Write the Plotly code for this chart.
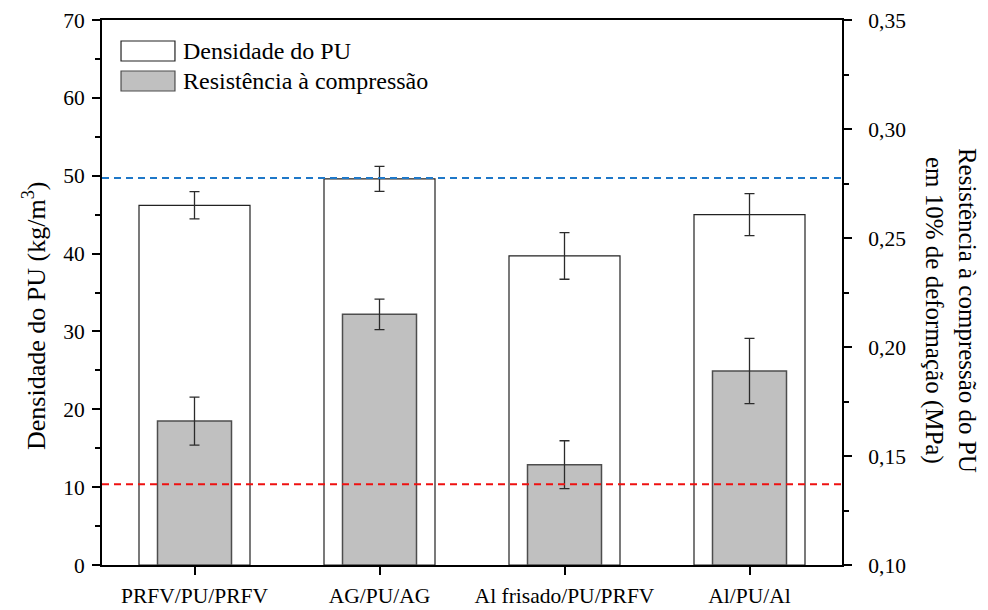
import plotly.graph_objects as go

# Sample configurations
categories = ["PRFV/PU/PRFV", "AG/PU/AG", "Al frisado/PU/PRFV", "Al/PU/Al"]

# PU foam density (kg/m3) and standard deviation
density = [46.2, 49.6, 39.7, 45.0]
density_err = [1.75, 1.6, 3.0, 2.7]

# Compressive strength at 10% strain (MPa) and standard deviation
strength = [0.166, 0.215, 0.146, 0.189]
strength_err = [0.011, 0.007, 0.011, 0.015]

# Reference levels drawn as dashed lines
density_ref = 49.7
strength_ref = 0.137

legend_labels = ["Densidade do PU", "Resistência à compressão"]

FONT = "Liberation Serif"
STRENGTH_MIN = 0.10

fig = go.Figure()

fig.add_trace(go.Bar(
    x=categories, y=density, width=0.6, name=legend_labels[0],
    marker=dict(color="white", line=dict(color="#222222", width=1.2)),
    error_y=dict(type="data", array=density_err, color="#2b2b2b",
                 thickness=1.3, width=5),
    yaxis="y", showlegend=False,
))

# strength bars rise from the lower bound of the right axis
fig.add_trace(go.Bar(
    x=categories, y=[v - STRENGTH_MIN for v in strength], base=STRENGTH_MIN,
    width=0.4, name=legend_labels[1],
    marker=dict(color="#c0c0c0", line=dict(color="#4d4d4d", width=1.5)),
    error_y=dict(type="data", array=strength_err, color="#2b2b2b",
                 thickness=1.3, width=5),
    yaxis="y2", showlegend=False,
))

axis_common = dict(
    showline=True, linecolor="black", linewidth=2,
    ticks="outside", ticklen=8, tickwidth=2, tickcolor="black",
    showgrid=False, zeroline=False, automargin=False,
    tickfont=dict(family=FONT, size=21.5, color="black"),
)

fig.update_layout(
    width=988, height=610,
    margin=dict(l=102, r=146, t=20, b=45),
    paper_bgcolor="white", plot_bgcolor="white",
    barmode="overlay",
    separators=",.",
    font=dict(family=FONT, color="black"),
    xaxis=dict(axis_common, range=[-0.5, 3.5], mirror=True,
               ticklabelstandoff=2),
    yaxis=dict(axis_common, range=[0, 70], dtick=10, tick0=0,
               ticklabelstandoff=3,
               minor=dict(dtick=5, ticklen=5, tickwidth=2, ticks="outside",
                          tickcolor="black")),
    yaxis2=dict(axis_common, overlaying="y", side="right",
                range=[STRENGTH_MIN, 0.35], dtick=0.05, tick0=STRENGTH_MIN,
                tickformat=".2f", ticklabelstandoff=12,
                minor=dict(dtick=0.025, ticklen=5, tickwidth=2,
                           ticks="outside", tickcolor="black")),
)

# dashed reference lines
fig.add_shape(type="line", xref="paper", x0=0, x1=1, yref="y",
              y0=density_ref, y1=density_ref,
              line=dict(color="#1f78c8", width=2, dash="7px,5px"))
fig.add_shape(type="line", xref="paper", x0=0, x1=1, yref="y2",
              y0=strength_ref, y1=strength_ref,
              line=dict(color="#ee1111", width=2, dash="7px,5px"))

# legend boxes and labels
legend_fills = ["white", "#c0c0c0"]
legend_lines = ["#222222", "#4d4d4d"]
box_tops = [0.9615, 0.9064]
box_h = 0.0367
for lab, fill, lc, top in zip(legend_labels, legend_fills, legend_lines, box_tops):
    fig.add_shape(type="rect", xref="paper", yref="paper",
                  x0=0.0257, x1=0.0986, y0=top - box_h, y1=top,
                  fillcolor=fill, line=dict(color=lc, width=1.2))
    fig.add_annotation(xref="paper", yref="paper", x=0.107, y=top - box_h / 2,
                       text=lab, showarrow=False, xanchor="left",
                       yanchor="middle",
                       font=dict(family=FONT, size=24, color="black"))

# axis titles
fig.add_annotation(xref="paper", yref="paper", x=-0.0905, y=0.457,
                   text="Densidade do PU (kg/m<sup>3</sup>)", textangle=-90,
                   showarrow=False, xanchor="center", yanchor="middle",
                   font=dict(family=FONT, size=26, color="black"))
fig.add_annotation(xref="paper", yref="paper", x=1.146, y=0.468,
                   text="Resistência à compressão do PU<br>em 10% de deformação (MPa)",
                   textangle=90, showarrow=False, xanchor="center",
                   yanchor="middle",
                   font=dict(family=FONT, size=25, color="black"))

fig.write_html("out.html")
